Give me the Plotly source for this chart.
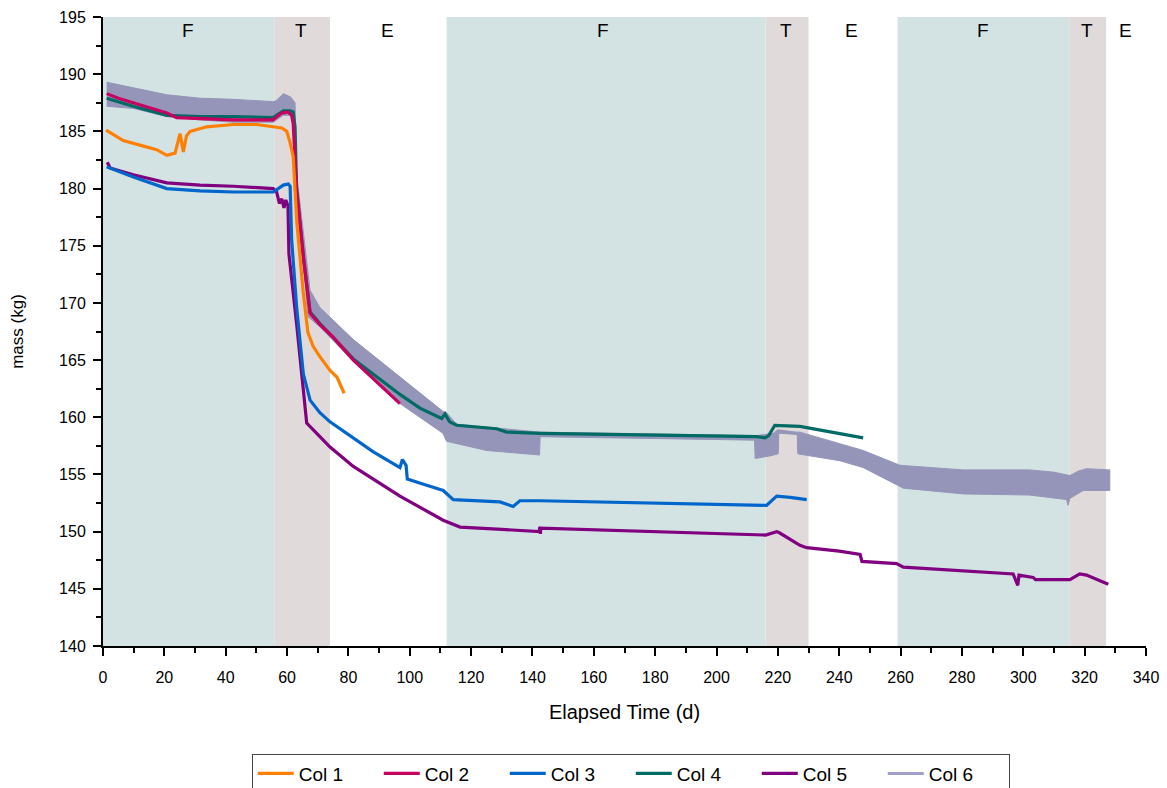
import plotly.graph_objects as go

# ---------------- data ----------------
col1_x = [1.0, 6.6, 12.0, 17.5, 20.8, 23.5, 25.1, 26.2, 27.2, 28.4, 33.8, 42.4, 50.1, 55.5, 58.3, 59.9,
          61.0, 62.0, 63.2, 65.2, 66.8, 68.5, 70.7, 74.0, 76.3, 78.6]
col1_y = [185.1, 184.2, 183.8, 183.4, 182.9, 183.1, 184.8, 183.2, 184.6, 185.0, 185.4, 185.6, 185.6, 185.4, 185.3, 185.0,
          184.0, 182.8, 177.0, 171.1, 167.4, 166.2, 165.3, 164.1, 163.5, 162.1]

col2_x = [1.2, 5.0, 9.8, 15.0, 20.8, 24.0, 31.6, 42.4, 55.4, 58.2, 60.3, 61.5, 62.0, 63.1, 65.3, 67.5,
          70.7, 75.0, 81.6, 90.0, 96.8]
col2_y = [188.3, 187.9, 187.5, 187.1, 186.6, 186.2, 186.1, 186.0, 186.0, 186.6, 186.7, 186.4, 185.7, 179.9, 174.0, 169.1,
          168.1, 167.0, 165.0, 162.9, 161.2]

col3_x = [1.2, 9.9, 20.8, 31.6, 42.5, 55.5, 58.8, 60.4, 61.0, 61.5, 63.1, 65.3, 67.5, 70.7, 74.0, 80.5,
          88.0, 96.8, 97.6, 98.8, 99.2, 105.0, 110.9, 114.2, 129.4, 133.7, 135.9, 142.4, 213.1, 216.3,
          219.6, 224.0, 229.4]
col3_y = [181.9, 181.0, 180.0, 179.8, 179.7, 179.7, 180.3, 180.4, 180.2, 175.5, 169.7, 163.8, 161.5, 160.4, 159.6, 158.4,
          157.0, 155.6, 156.3, 155.8, 154.6, 154.1, 153.6, 152.8, 152.6, 152.2, 152.7, 152.7, 152.3, 152.3,
          153.1, 153.0, 152.8]

col4_x = [1.2, 9.8, 20.8, 31.6, 42.4, 55.4, 58.8, 61.0, 62.0, 62.6, 63.1, 65.3, 67.5, 70.7, 81.6, 96.8,
          103.3, 110.4, 111.5, 113.0, 115.3, 128.3, 131.6, 142.4, 213.1, 215.8, 217.0, 219.0, 227.2,
          240.2, 247.8]
col4_y = [187.9, 187.2, 186.4, 186.3, 186.3, 186.2, 186.8, 186.8, 186.7, 185.4, 180.0, 174.1, 169.2, 168.2, 165.1, 162.0,
          160.8, 159.9, 160.3, 159.6, 159.3, 159.0, 158.7, 158.6, 158.3, 158.2, 158.4, 159.3, 159.2,
          158.6, 158.2]

col5_x = [1.4, 2.3, 9.9, 20.8, 31.6, 42.5, 55.5, 56.6, 57.5, 58.3, 59.0, 59.6, 60.3, 60.6, 63.1, 66.4,
          70.7, 74.0, 81.6, 96.8, 110.9, 116.4, 130.0, 142.2, 142.4, 142.6, 142.7, 213.1, 216.0, 219.6,
          220.5, 227.2, 229.4, 240.0, 246.8, 247.4, 258.7, 260.9, 280.4, 296.7, 298.2, 298.6, 303.2,
          304.0, 315.2, 318.4, 320.6, 327.7]
col5_y = [182.3, 181.8, 181.2, 180.5, 180.3, 180.2, 180.0, 179.7, 178.7, 179.1, 178.3, 179.0, 178.5, 174.3, 168.2, 159.5,
          158.3, 157.4, 155.7, 153.1, 151.0, 150.4, 150.2, 150.0, 150.4, 149.8, 150.3, 149.7, 149.7, 150.0,
          149.9, 148.8, 148.6, 148.3, 148.0, 147.4, 147.2, 146.9, 146.6, 146.3, 145.3, 146.2, 146.0,
          145.8, 145.8, 146.3, 146.2, 145.4]

# Col 6 is a noisy record: drawn as its min/max envelope
col6_upper_x = [1.2, 9.9, 20.8, 31.6, 42.5, 55.5, 56.5, 58.8, 61.2, 62.6, 63.1, 67.5, 70.7, 81.6, 96.8,
                110.9, 112.0, 115.3, 142.4, 213.0, 218.5, 220.0, 226.0, 227.2, 247.8, 259.8, 280.4,
                302.1, 310.0, 315.2, 318.0, 320.6, 328.2]
col6_upper_y = [189.3, 188.8, 188.2, 187.9, 187.8, 187.6, 187.7, 188.3, 188.0, 187.5, 181.3, 171.1, 169.6, 166.8, 163.5,
                160.5, 160.4, 159.4, 158.7, 158.4, 158.6, 158.9, 158.7, 158.7, 157.1, 155.8, 155.4,
                155.4, 155.2, 154.9, 155.3, 155.5, 155.4]
col6_lower_x = [1.2, 9.9, 20.8, 31.6, 42.5, 55.5, 58.8, 61.5, 62.6, 63.1, 66.8, 70.7, 81.6, 96.8, 110.8,
                112.0, 125.0, 142.3, 142.5, 212.4, 212.6, 217.0, 220.1, 220.3, 226.3, 226.5, 240.2, 247.8,
                260.9, 280.4, 302.1, 314.1, 314.6, 315.2, 319.5, 328.2]
col6_lower_y = [187.2, 187.0, 186.3, 186.0, 185.8, 185.8, 186.4, 186.4, 185.2, 180.0, 168.8, 167.9, 164.9, 161.2, 158.6,
                157.9, 157.1, 156.7, 158.3, 158.0, 156.4, 156.6, 156.8, 158.6, 158.5, 156.8, 156.2, 155.6,
                153.8, 153.3, 153.2, 152.8, 152.3, 152.9, 153.6, 153.6]

# phases: (start, end, label)
phase_start = [0, 56, 112, 216, 259, 315]
phase_end = [56, 74, 216, 230, 315, 327]
phase_kind = ["F", "T", "F", "T", "F", "T"]
label_x = [27.7, 64.5, 92.6, 163, 222.6, 244, 286.8, 320.7, 333.4]
label_text = ["F", "T", "E", "F", "T", "E", "F", "T", "E"]

names = ["Col 1", "Col 2", "Col 3", "Col 4", "Col 5", "Col 6"]
colors = ["#FF8000", "#C8005F", "#0066CC", "#006B64", "#800080", "#9595B9"]

phase_colors = {"F": "#D3E3E3", "T": "#E0DBDA"}

FONT = "Liberation Sans, Arial, sans-serif"

fig = go.Figure()

# Col 6 envelope (drawn first, beneath the others)
fig.add_trace(go.Scatter(
    x=col6_upper_x + col6_lower_x[::-1],
    y=col6_upper_y + col6_lower_y[::-1],
    fill="toself", fillcolor=colors[5], mode="lines",
    line=dict(color=colors[5], width=1), showlegend=False, hoverinfo="skip"))
fig.add_trace(go.Scatter(x=[None], y=[None], mode="lines", name=names[5],
                         line=dict(color="#A0A0C8", width=3), legendrank=6))

series = [(col1_x, col1_y), (col2_x, col2_y), (col3_x, col3_y), (col4_x, col4_y), (col5_x, col5_y)]
for i in [4, 3, 2, 1, 0]:
    xs, ys = series[i]
    fig.add_trace(go.Scatter(x=xs, y=ys, mode="lines", name=names[i],
                             line=dict(color=colors[i], width=3.2), legendrank=i + 1))

shapes = []
for s, e, k in zip(phase_start, phase_end, phase_kind):
    shapes.append(dict(type="rect", xref="x", yref="paper", x0=s, x1=e, y0=0, y1=1,
                       fillcolor=phase_colors[k], line=dict(width=0), layer="below"))

annotations = []
for lx, lt in zip(label_x, label_text):
    annotations.append(dict(x=lx, y=0.979, xref="x", yref="paper", text=lt, showarrow=False,
                            font=dict(family=FONT, size=19, color="black"),
                            xanchor="center", yanchor="middle"))

axis_common = dict(showline=True, linecolor="black", linewidth=2, ticks="outside", ticklen=8,
                   tickwidth=2, tickcolor="black", showgrid=False, zeroline=False,
                   tickfont=dict(family=FONT, size=16, color="black"))

fig.update_layout(
    width=1167, height=788,
    margin=dict(l=103, r=21, t=17, b=142, autoexpand=False),
    paper_bgcolor="white", plot_bgcolor="white",
    shapes=shapes, annotations=annotations,
    xaxis=dict(range=[0, 340], dtick=20, tick0=0,
               minor=dict(dtick=10, ticklen=5, tickwidth=2, tickcolor="black", ticks="outside"),
               title=dict(text="Elapsed Time (d)", standoff=20,
                          font=dict(family=FONT, size=20, color="black")),
               ticklabelstandoff=8, **axis_common),
    yaxis=dict(range=[140, 195], dtick=5, tick0=140,
               minor=dict(dtick=2.5, ticklen=5, tickwidth=2, tickcolor="black", ticks="outside"),
               title=dict(text="mass (kg)", standoff=31,
                          font=dict(family=FONT, size=17, color="black")),
               ticklabelstandoff=4, **axis_common),
    legend=dict(orientation="h", x=0.506, xanchor="center", y=-0.171, yanchor="top",
                bordercolor="#444", borderwidth=1, font=dict(family=FONT, size=19, color="black"),
                entrywidth=75, entrywidthmode="pixels", itemwidth=36, traceorder="normal",
                tracegroupgap=0),
    font=dict(family=FONT, color="black"),
)

fig.write_html("out.html")
